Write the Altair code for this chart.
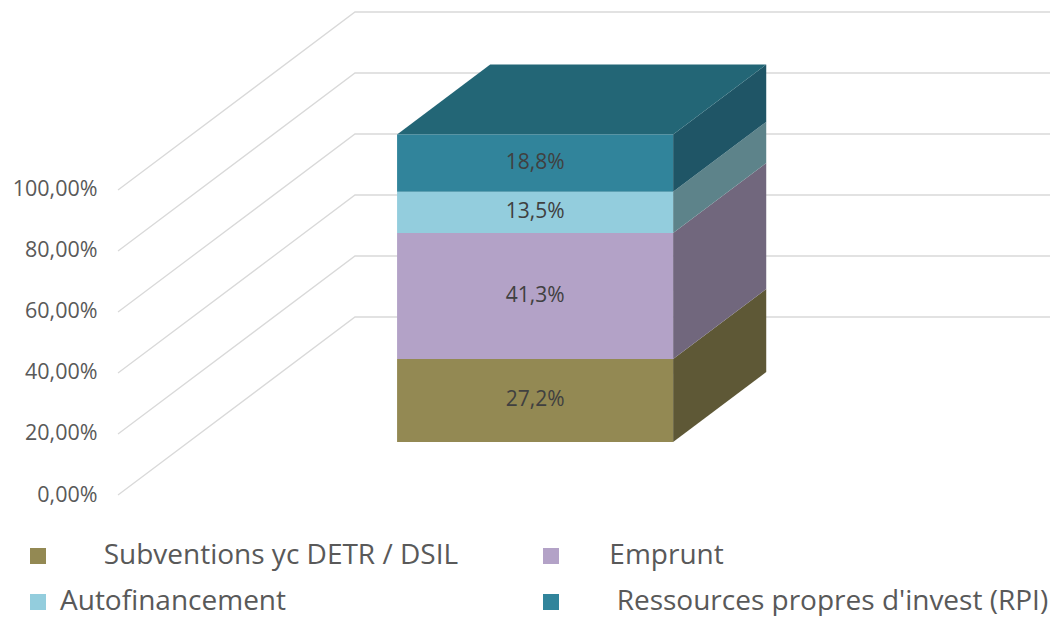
import altair as alt
import pandas as pd

# ---- data ----
series = ["Subventions yc DETR / DSIL", "Emprunt", "Autofinancement", "Ressources propres d'invest (RPI)"]
values = [27.2, 41.3, 13.5, 18.8]
front_colors = ["#938953", "#b3a2c7", "#93cddd", "#31849b"]
side_colors = ["#5e5836", "#71677d", "#5d838a", "#1f5566"]
top_color = "#236676"
ticks = [0, 20, 40, 60, 80, 100]

# legend is filled column by column: order entries so it reads row by row
legend_order = [series[0], series[2], series[1], series[3]]
legend_colors = [front_colors[0], front_colors[2], front_colors[1], front_colors[3]]

# ---- oblique 3D projection constants (units = percent) ----
PLOT_W = 932
XMAX = PLOT_W / 3.05  # x domain of the plot area
YMAX = 158.36         # y domain of the plot area
DX, DY = 77.7, 58.36  # full depth of the chart floor
BAR_X0, BAR_X1 = 91.5, 182.0   # front face of the bar (in front plane)
BAR_F0 = 0.298        # depth position of bar front
BAR_D = 0.393         # bar depth fraction
bdx, bdy = BAR_D * DX, BAR_D * DY
base = BAR_F0 * DY

# gridlines (front diagonal + back wall)
grid_rows = []
for t in ticks:
    grid_rows.append({"tick": t, "o": 0, "x": 0.0, "y": t})
    grid_rows.append({"tick": t, "o": 1, "x": DX, "y": t + DY})
    grid_rows.append({"tick": t, "o": 2, "x": XMAX, "y": t + DY})
grid_df = pd.DataFrame(grid_rows)

front_rows, side_rows, label_rows = [], [], []
cum = 0.0
for s, v, fc, sc in zip(series, values, front_colors, side_colors):
    y0, y1 = base + cum, base + cum + v
    front_rows.append({"series": s, "x": BAR_X0, "x2": BAR_X1, "y": y0, "y2": y1})
    side_rows.append({"series": s, "col": sc, "x": BAR_X1, "y": y0, "y2": y1})
    side_rows.append({"series": s, "col": sc, "x": BAR_X1 + bdx, "y": y0 + bdy, "y2": y1 + bdy})
    label_rows.append({"x": (BAR_X0 + BAR_X1) / 2, "y": (y0 + y1) / 2,
                       "label": f"{v:.1f}".replace(".", ",") + "%"})
    cum += v
top = base + cum
front_df = pd.DataFrame(front_rows)
side_df = pd.DataFrame(side_rows)
label_df = pd.DataFrame(label_rows)
top_df = pd.DataFrame([
    {"y": top, "x": BAR_X0, "x2": BAR_X1, "col": top_color},
    {"y": top + bdy, "x": BAR_X0 + bdx, "x2": BAR_X1 + bdx, "col": top_color},
])

xs = alt.Scale(domain=[0, XMAX], nice=False, zero=False)
ys = alt.Scale(domain=[0, YMAX], nice=False, zero=False)

# extra spacing before some legend labels (as in the original legend)
pad_map = {
    "Subventions yc DETR / DSIL": 6,
    "Emprunt": 5,
    "Ressources propres d'invest (RPI)": 6,
}
ZW = chr(0x200B)
NB = chr(0xA0)
label_expr = " : ".join(
    [f"datum.label == \"{k}\" ? '{ZW}{NB * n}' + datum.label" for k, n in pad_map.items()]
) + " : datum.label"

grid = alt.Chart(grid_df).mark_line(color="#d9d9d9", strokeWidth=1.3).encode(
    x=alt.X("x:Q", scale=xs, axis=None),
    y=alt.Y("y:Q", scale=ys, title=None, axis=alt.Axis(
        values=ticks, grid=False, domain=False, ticks=False, title=None,
        labelExpr="replace(format(datum.value, '.2f'), '.', ',') + '%'",
        labelPadding=21, labelFontSize=21.5, labelColor="#595959", labelFont="Open Sans")),
    detail="tick:N",
    order="o:Q",
)

front = alt.Chart(front_df).mark_rect().encode(
    x=alt.X("x:Q", scale=xs), x2="x2:Q",
    y=alt.Y("y:Q", scale=ys), y2="y2:Q",
    color=alt.Color("series:N", sort=legend_order,
                    scale=alt.Scale(domain=legend_order, range=legend_colors),
                    legend=alt.Legend(
                        title=None, orient="none", columns=2,
                        legendX=-94, legendY=530,
                        symbolType="square", symbolSize=256, symbolStrokeWidth=0,
                        labelFont="Open Sans", labelFontSize=28, labelColor="#595959",
                        labelLimit=900, labelOffset=8, columnPadding=78, rowPadding=18,
                        labelExpr=label_expr)),
)

side = alt.Chart(side_df).mark_area(orient="vertical").encode(
    x=alt.X("x:Q", scale=xs),
    y=alt.Y("y:Q", scale=ys, stack=None), y2="y2:Q",
    fill=alt.Fill("col:N", scale=None),
    detail="series:N",
)

topface = alt.Chart(top_df).mark_area(orient="horizontal").encode(
    y=alt.Y("y:Q", scale=ys),
    x=alt.X("x:Q", scale=xs, stack=None), x2="x2:Q",
    fill=alt.Fill("col:N", scale=None),
)

labels = alt.Chart(label_df).mark_text(font="Open Sans", fontSize=21, color="#404040").encode(
    x=alt.X("x:Q", scale=xs), y=alt.Y("y:Q", scale=ys), text="label:N",
)

chart = alt.layer(grid, side, topface, front, labels).properties(
    width=PLOT_W, height=483,
    padding={"left": 110, "top": 4, "right": 0, "bottom": 121},
    autosize=alt.AutoSizeParams(type="none"),
    background="white",
).configure_view(strokeWidth=0)

chart.save("out.html", embed_options={"renderer": "svg", "actions": False})
